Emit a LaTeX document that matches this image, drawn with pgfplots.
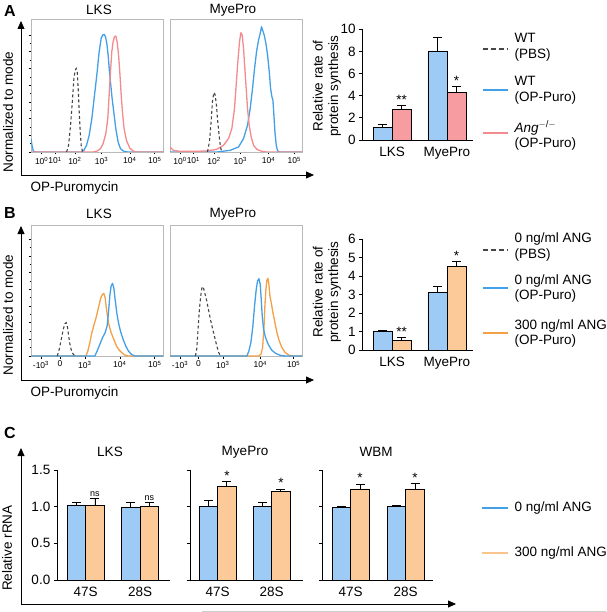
\documentclass[border=0pt]{standalone}
\usepackage{fontspec}
\setmainfont{Liberation Sans}
\usepackage{pgfplots}
\pgfplotsset{compat=1.18}
\usetikzlibrary{arrows.meta}

\definecolor{histblue}{RGB}{66,160,232}
\definecolor{histred}{RGB}{242,138,142}
\definecolor{historange}{RGB}{244,160,72}
\definecolor{barblue}{RGB}{158,203,245}
\definecolor{barred}{RGB}{247,156,160}
\definecolor{barorange}{RGB}{252,202,152}
\definecolor{dashgray}{RGB}{70,70,70}

\newcommand\fs{\fontsize{13.5}{15.5}\selectfont}
\newcommand\sm{\fontsize{8.5}{9}\selectfont}

\tikzset{sig/.style={font=\fs, inner sep=1pt, anchor=south}}

\pgfplotsset{
  hist/.style={scale only axis, width=132pt, ymin=0,
    axis line style={gray!55, line width=0.7pt},
    tick style={black, line width=0.5pt}, tick align=outside,
    xtick pos=bottom, ytick pos=left,
    major tick length=2.5pt, minor tick length=1.5pt,
    minor x tick num=4, yticklabels={},
    xticklabel style={font=\sm, yshift=1pt}},
  hdash/.style={dashgray, line width=1.1pt, dash pattern=on 3pt off 2.5pt},
  hblue/.style={histblue, line width=1.3pt, line join=round},
  hred/.style={histred, line width=1.3pt, line join=round},
  horange/.style={historange, line width=1.3pt, line join=round},
  bars/.style={scale only axis, axis lines=left,
    axis line style={-, black, line width=0.8pt}, ymin=0,
    xtick={0,1}, xtick style={draw=none},
    ytick style={black, line width=0.8pt}, tick align=outside,
    major tick length=3.5pt, ticklabel style={font=\fs},
    /pgf/number format/assume math mode=true, clip=false},
  bar/.style={ybar, bar shift=0pt, fill=#1, draw=black, line width=0.8pt,
    error bars/y dir=plus, error bars/y explicit,
    error bars/error bar style={black, line width=0.8pt},
    error bars/error mark options={rotate=90, mark size=4.5pt, black, line width=0.8pt}},
}

\begin{document}
\begin{tikzpicture}
\useasboundingbox (0,0) rectangle (606pt,-612pt);

% ---------------- panel A ----------------
\node[font=\fontsize{16}{16}\selectfont\bfseries] at (10pt,-11pt) {A};
\node[font=\fs] at (99pt,-10pt) {LKS};
\node[font=\fs] at (233pt,-10pt) {MyePro};
\draw[line width=0.8pt, -{Triangle[length=8pt,width=7pt]}] (21pt,-175pt) -- (21pt,-21pt);
\draw[line width=0.8pt, -{Triangle[length=8pt,width=7pt]}] (21pt,-175pt) -- (314pt,-175pt);
\node[font=\fs, rotate=90] at (8pt,-112pt) {Normalized to mode};
\node[font=\fs, anchor=west] at (27pt,-188pt) {OP-Puromycin};

\begin{axis}[hist, height=133pt, at={(31pt,-152pt)}, anchor=south west,
  xmin=93, xmax=490, ymax=398, ytick={0,50,...,350}, minor y tick num=1,
  xtick={125,165,225,305,390,465},
  xticklabels={10\textsuperscript{0},10\textsuperscript{1},10\textsuperscript{2},10\textsuperscript{3},10\textsuperscript{4},10\textsuperscript{5}}]
\addplot[hblue] coordinates {(93,40)(96,20)(100,2)(110,0)(245,0)(252,5)(260,20)(268,50)(276,100)(284,170)(292,240)(298,300)(304,340)(309,350)(313,352)(317,345)(321,325)(325,290)(329,240)(333,200)(337,160)(342,120)(348,70)(355,30)(362,10)(372,2)(385,0)(490,0)};
\addplot[hred] coordinates {(93,0)(280,0)(292,3)(302,10)(310,25)(318,55)(324,100)(328,170)(332,240)(336,300)(340,330)(344,345)(348,347)(352,330)(356,295)(360,240)(364,175)(368,120)(373,70)(380,35)(390,12)(400,3)(410,0)(490,0)};
\addplot[hdash] coordinates {(200,0)(206,20)(212,80)(218,160)(222,220)(226,245)(229,250)(232,240)(235,190)(238,120)(241,60)(244,20)(248,0)};
\end{axis}

\begin{axis}[hist, height=133pt, at={(170pt,-152pt)}, anchor=south west,
  xmin=510, xmax=905, ymax=398, ytick=\empty,
  xtick={540,580,642,720,805,882},
  xticklabels={10\textsuperscript{0},10\textsuperscript{1},10\textsuperscript{2},10\textsuperscript{3},10\textsuperscript{4},10\textsuperscript{5}}]
\addplot[hblue] coordinates {(510,0)(650,0)(690,5)(715,15)(730,40)(742,80)(750,130)(757,190)(763,250)(769,300)(775,335)(780,355)(784,375)(788,362)(792,350)(797,325)(802,290)(807,240)(811,190)(815,165)(818,155)(821,110)(824,60)(828,20)(832,3)(840,0)(905,0)};
\addplot[hred] coordinates {(510,15)(520,5)(540,2)(580,2)(620,3)(650,8)(670,20)(685,40)(695,70)(703,130)(708,200)(713,270)(718,330)(722,357)(726,350)(730,310)(734,250)(738,190)(742,130)(747,80)(753,45)(760,20)(770,8)(785,2)(800,0)(905,0)};
\addplot[hdash] coordinates {(622,0)(628,30)(633,90)(637,150)(641,178)(645,172)(649,140)(652,100)(655,70)(658,40)(661,15)(665,0)};
\end{axis}

% bar chart A
\node[font=\fs, rotate=90, align=center] at (327pt,-86pt) {Relative rate of\\protein synthesis};
\begin{axis}[bars, width=110.3pt, height=110.7pt, at={(362.7pt,-140pt)}, anchor=south west,
  xmin=-0.533, xmax=1.473, ymax=10, ytick={0,2,4,6,8,10},
  xticklabels={LKS,MyePro}]
\addplot[bar=barblue, bar width=19pt] coordinates {(-0.173,1.14) +- (0,0.28) (0.827,8.04) +- (0,1.24)};
\addplot[bar=barred, bar width=19pt] coordinates {(0.173,2.77) +- (0,0.36) (1.173,4.28) +- (0,0.54)};
\node[sig] at (axis cs:0.173,3.13) {**};
\node[sig] at (axis cs:1.173,4.82) {*};
\end{axis}

% legend A
\draw[dashgray, line width=2pt, dash pattern=on 5pt off 3pt] (482.7pt,-49pt) -- (508pt,-49pt);
\node[font=\fs, anchor=west, align=left] at (511pt,-47.5pt) {WT\\(PBS)};
\draw[histblue, line width=2pt] (482.7pt,-90pt) -- (508pt,-90pt);
\node[font=\fs, anchor=west, align=left] at (511pt,-90.5pt) {WT\\(OP-Puro)};
\draw[histred, line width=2pt] (482.7pt,-133pt) -- (508pt,-133pt);
\node[font=\fs, anchor=west, align=left] at (511pt,-135.5pt) {\textit{Ang}\textsuperscript{$-$/$-$}\\(OP-Puro)};

% ---------------- panel B ----------------
\node[font=\fontsize{16}{16}\selectfont\bfseries] at (10pt,-213pt) {B};
\node[font=\fs] at (99pt,-214pt) {LKS};
\node[font=\fs] at (233pt,-214pt) {MyePro};
\draw[line width=0.8pt, -{Triangle[length=8pt,width=7pt]}] (21pt,-380pt) -- (21pt,-226pt);
\draw[line width=0.8pt, -{Triangle[length=8pt,width=7pt]}] (21pt,-380pt) -- (314pt,-380pt);
\node[font=\fs, rotate=90] at (8pt,-315pt) {Normalized to mode};
\node[font=\fs, anchor=west] at (27pt,-393pt) {OP-Puromycin};

\begin{axis}[hist, height=131pt, at={(31pt,-356pt)}, anchor=south west,
  xmin=93, xmax=490, ymax=393, ytick={0,50,...,350}, minor y tick num=1,
  xtick={123,180,255,360,465},
  xticklabels={-10\textsuperscript{3},0,10\textsuperscript{3},10\textsuperscript{4},10\textsuperscript{5}}]
\addplot[horange] coordinates {(93,0)(258,0)(264,15)(270,40)(276,70)(283,95)(290,120)(297,150)(303,175)(308,185)(312,188)(316,175)(320,140)(326,100)(334,70)(342,50)(350,30)(358,18)(366,10)(375,3)(385,0)(490,0)};
\addplot[hblue] coordinates {(93,0)(285,0)(292,15)(300,35)(308,55)(316,70)(322,90)(326,130)(330,180)(334,210)(338,218)(342,205)(346,170)(351,130)(356,100)(362,75)(370,50)(378,30)(386,15)(395,5)(405,0)(490,0)};
\addplot[hdash] coordinates {(172,0)(178,20)(184,50)(190,80)(195,97)(199,100)(203,85)(207,55)(211,30)(216,12)(222,3)(228,0)};
\end{axis}

\begin{axis}[hist, height=131pt, at={(170pt,-356pt)}, anchor=south west,
  xmin=510, xmax=905, ymax=393, ytick=\empty,
  xtick={540,595,668,780,880},
  xticklabels={-10\textsuperscript{3},0,10\textsuperscript{3},10\textsuperscript{4},10\textsuperscript{5}}]
\addplot[horange] coordinates {(510,0)(775,0)(782,5)(787,25)(791,80)(794,150)(797,200)(800,228)(803,233)(806,215)(809,180)(813,160)(818,130)(824,100)(830,70)(837,45)(845,25)(855,10)(865,3)(875,0)(905,0)};
\addplot[hblue] coordinates {(510,0)(740,0)(746,15)(752,40)(758,90)(763,150)(768,200)(772,225)(776,232)(780,215)(783,170)(786,120)(790,80)(796,55)(804,35)(814,18)(826,8)(840,2)(855,0)(905,0)};
\addplot[hdash] coordinates {(586,0)(590,20)(594,80)(598,140)(602,180)(606,208)(610,205)(615,185)(620,165)(626,135)(632,105)(638,80)(644,55)(650,30)(656,10)(662,0)};
\end{axis}

% bar chart B
\node[font=\fs, rotate=90, align=center] at (327pt,-292pt) {Relative rate of\\protein synthesis};
\begin{axis}[bars, width=110.3pt, height=110.7pt, at={(362.7pt,-350pt)}, anchor=south west,
  xmin=-0.533, xmax=1.473, ymax=6, ytick={0,1,2,3,4,5,6},
  xticklabels={LKS,MyePro}]
\addplot[bar=barblue, bar width=19pt] coordinates {(-0.173,1.03) +- (0,0.05) (0.827,3.11) +- (0,0.36)};
\addplot[bar=barorange, bar width=19pt] coordinates {(0.173,0.54) +- (0,0.12) (1.173,4.52) +- (0,0.27)};
\node[sig] at (axis cs:0.173,0.66) {**};
\node[sig] at (axis cs:1.173,4.79) {*};
\end{axis}

% legend B
\draw[dashgray, line width=2pt, dash pattern=on 5pt off 3pt] (482.7pt,-250pt) -- (508pt,-250pt);
\node[font=\fs, anchor=west, align=left] at (511pt,-247pt) {0 ng/ml ANG\\(PBS)};
\draw[histblue, line width=2pt] (482.7pt,-288pt) -- (508pt,-288pt);
\node[font=\fs, anchor=west, align=left] at (511pt,-288.5pt) {0 ng/ml ANG\\(OP-Puro)};
\draw[historange, line width=2pt] (482.7pt,-333pt) -- (508pt,-333pt);
\node[font=\fs, anchor=west, align=left] at (511pt,-333.5pt) {300 ng/ml ANG\\(OP-Puro)};

% ---------------- panel C ----------------
\node[font=\fontsize{16}{16}\selectfont\bfseries] at (10pt,-433pt) {C};
\draw[line width=0.8pt, -{Triangle[length=8pt,width=7pt]}] (21pt,-604pt) -- (21pt,-448pt);
\draw[line width=0.8pt, -{Triangle[length=8pt,width=7pt]}] (21pt,-604pt) -- (456pt,-604pt);
\draw[gray!40, line width=0.8pt] (202pt,-611pt) -- (606pt,-611pt);
\node[font=\fs, rotate=90] at (7pt,-548pt) {Relative rRNA};
\node[font=\fs] at (110pt,-452pt) {LKS};
\node[font=\fs] at (245pt,-452pt) {MyePro};
\node[font=\fs] at (376pt,-452pt) {WBM};

\begin{axis}[bars, width=112.7pt, height=110pt, at={(57.3pt,-580pt)}, anchor=south west,
  xmin=-0.523, xmax=1.552, ymax=1.5, ytick={0,0.5,1,1.5},
  yticklabel style={/pgf/number format/.cd, fixed, fixed zerofill, precision=1},
  xticklabels={47S,28S}]
\addplot[bar=barblue, bar width=18.4pt] coordinates {(-0.17,1.023) +- (0,0.041) (0.83,0.995) +- (0,0.064)};
\addplot[bar=barorange, bar width=18.4pt] coordinates {(0.17,1.014) +- (0,0.10) (1.17,1.009) +- (0,0.046)};
\node[font=\fontsize{9}{10}\selectfont, inner sep=1.5pt, anchor=south] at (axis cs:0.17,1.114) {ns};
\node[font=\fontsize{9}{10}\selectfont, inner sep=1.5pt, anchor=south] at (axis cs:1.17,1.055) {ns};
\end{axis}

\begin{axis}[bars, width=113.3pt, height=110pt, at={(190pt,-580pt)}, anchor=south west,
  xmin=-0.513, xmax=1.585, ymax=1.5, ytick={0,0.5,1,1.5}, yticklabels={},
  xticklabels={47S,28S}]
\addplot[bar=barblue, bar width=18.4pt] coordinates {(-0.17,1.009) +- (0,0.073) (0.83,1.009) +- (0,0.05)};
\addplot[bar=barorange, bar width=18.4pt] coordinates {(0.17,1.273) +- (0,0.068) (1.17,1.209) +- (0,0.032)};
\node[sig] at (axis cs:0.17,1.341) {*};
\node[sig] at (axis cs:1.17,1.241) {*};
\end{axis}

\begin{axis}[bars, width=110.6pt, height=110pt, at={(322.7pt,-580pt)}, anchor=south west,
  xmin=-0.509, xmax=1.502, ymax=1.5, ytick={0,0.5,1,1.5}, yticklabels={},
  xticklabels={47S,28S}]
\addplot[bar=barblue, bar width=18.6pt] coordinates {(-0.17,0.995) +- (0,0.015) (0.83,1.0) +- (0,0.014)};
\addplot[bar=barorange, bar width=18.6pt] coordinates {(0.17,1.241) +- (0,0.068) (1.17,1.241) +- (0,0.077)};
\node[sig] at (axis cs:0.17,1.309) {*};
\node[sig] at (axis cs:1.17,1.318) {*};
\end{axis}

% legend C
\draw[histblue, line width=2pt] (481.7pt,-508pt) -- (508pt,-508pt);
\node[font=\fs, anchor=west] at (511pt,-508pt) {0 ng/ml ANG};
\draw[barorange!85!historange, line width=2pt] (481.7pt,-553pt) -- (508pt,-553pt);
\node[font=\fs, anchor=west] at (511pt,-553pt) {300 ng/ml ANG};
\end{tikzpicture}
\end{document}
